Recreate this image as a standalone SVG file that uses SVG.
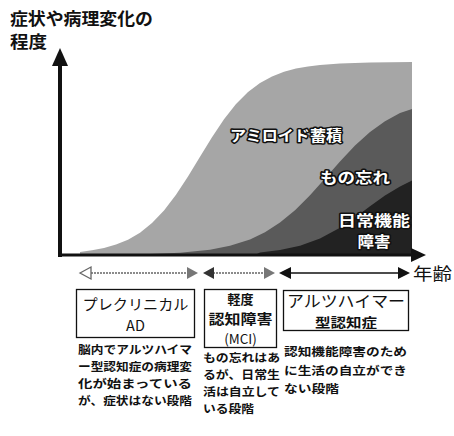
<svg xmlns="http://www.w3.org/2000/svg" width="454" height="436" viewBox="0 0 454 436">
<style>
text{font-family:"Noto Sans CJK JP","Noto Sans",sans-serif;fill:#111}
.title{font-size:17px;font-weight:700}
.lbl{font-size:15px;font-weight:700;fill:#fff;stroke:#111;stroke-width:3;paint-order:stroke;stroke-linejoin:round}
.box{fill:#fff;stroke:#111;stroke-width:1.3}
.bt{font-size:14.5px;text-anchor:middle}
.desc{font-size:11.5px;font-weight:700}
.dot{stroke:#666;stroke-width:1.5;stroke-dasharray:2 1;fill:none}
</style>
<g id="title">
<text class="title" x="10" y="25" textLength="143" lengthAdjust="spacingAndGlyphs">症状や病理変化の</text>
<text class="title" x="10" y="48" textLength="37" lengthAdjust="spacingAndGlyphs">程度</text>
</g>
<g id="areas">
<path id="amyloid" fill="#a6a6a6" d="M80,255 L80,251.9 92,250.3 104,248 116,244.6 128,239.7 140,232.7 152,223.1 164,210.6 176,194.8 188,176.6 200,156.8 212,137.3 224,119.3 236,104.1 248,92.1 260,83 272,76.5 284,71.8 296,68.6 308,66.4 320,64.9 340,63.5 370,62.5 412,62 L412,255 Z"/>
<path id="memory" fill="#5a5a5a" d="M150,255 L150,254 180,252.7 210,249.7 230,245.8 250,239.5 265,232.3 280,222.6 295,210.2 310,195.2 325,178.4 340,161.4 355,145.6 370,132 385,121.2 400,113.1 412,109 L412,255 Z"/>
<path id="daily" fill="#222" d="M255,255 L260,252.4 280,250 300,245.8 320,238.6 340,227.7 355,217.4 370,206.3 385,195.5 400,186.4 412,180.6 L412,255 Z"/>
<text class="lbl" x="286" y="141" text-anchor="middle" textLength="112" lengthAdjust="spacingAndGlyphs">アミロイド蓄積</text>
<text class="lbl" x="355" y="183" text-anchor="middle" textLength="70" lengthAdjust="spacingAndGlyphs">もの忘れ</text>
<text class="lbl" x="374" y="226" text-anchor="middle" textLength="72" lengthAdjust="spacingAndGlyphs">日常機能</text>
<text class="lbl" x="374" y="247" text-anchor="middle" textLength="33" lengthAdjust="spacingAndGlyphs">障害</text>
</g>
<g id="axes">
<line x1="60" y1="257" x2="60" y2="62" stroke="#111" stroke-width="4"/>
<polygon points="60,48 52,66 68,66" fill="#111"/>
<line x1="58" y1="255" x2="413" y2="255" stroke="#111" stroke-width="3"/>
<polygon points="426,255 411,248 411,262" fill="#111"/>
</g>
<g id="connectors">
<line class="dot" x1="88" y1="273" x2="190" y2="273"/>
<polygon points="80,273 91,267 91,279" fill="#fff" stroke="#666" stroke-width="1.3"/>
<polygon points="198,273 187,267 187,279" fill="#777"/>
<line class="dot" x1="210" y1="273" x2="266" y2="273"/>
<polygon points="203,273 214,267 214,279" fill="#333"/>
<polygon points="275,273 264,267 264,279" fill="#777"/>
<line x1="286" y1="273" x2="402" y2="273" stroke="#111" stroke-width="1.5"/>
<polygon points="279,273 291,267 291,279" fill="#111"/>
<polygon points="410,273 398,267 398,279" fill="#111"/>
<text x="413" y="280" style="font-size:17px" textLength="39" lengthAdjust="spacingAndGlyphs">年齢</text>
</g>
<g id="preclinical">
<rect class="box" x="76.5" y="289.5" width="118" height="48"/>
<text class="bt" x="135.5" y="310" textLength="106" lengthAdjust="spacingAndGlyphs">プレクリニカル</text>
<text class="bt" x="135.5" y="331">AD</text>
<text class="desc" x="78" y="354" textLength="114" lengthAdjust="spacingAndGlyphs">脳内でアルツハイマ</text>
<text class="desc" x="78" y="371" textLength="114" lengthAdjust="spacingAndGlyphs">ー型認知症の病理変</text>
<text class="desc" x="78" y="388" textLength="114" lengthAdjust="spacingAndGlyphs">化が始まっている</text>
<text class="desc" x="78" y="405" textLength="114" lengthAdjust="spacingAndGlyphs">が、症状はない段階</text>
</g>
<g id="mci">
<rect class="box" x="204.5" y="289.5" width="72" height="58"/>
<text class="bt" x="240.5" y="304" style="font-size:13px;font-weight:700">軽度</text>
<text class="bt" x="240.5" y="324" style="font-size:13.5px;font-weight:700" textLength="64" lengthAdjust="spacingAndGlyphs">認知障害</text>
<text class="bt" x="240.5" y="344" style="font-size:13.5px">(MCI)</text>
<text class="desc" x="203" y="362" textLength="77" lengthAdjust="spacingAndGlyphs">もの忘れはあ</text>
<text class="desc" x="203" y="379" textLength="77" lengthAdjust="spacingAndGlyphs">るが、日常生</text>
<text class="desc" x="203" y="396" textLength="77" lengthAdjust="spacingAndGlyphs">活は自立して</text>
<text class="desc" x="203" y="413" textLength="51" lengthAdjust="spacingAndGlyphs">いる段階</text>
</g>
<g id="alzheimer">
<rect class="box" x="283.5" y="290.5" width="125" height="40"/>
<text class="bt" x="346" y="307" style="font-size:16px" textLength="118" lengthAdjust="spacingAndGlyphs">アルツハイマー</text>
<text class="bt" x="346" y="327" style="font-size:13px;font-weight:700" textLength="62" lengthAdjust="spacingAndGlyphs">型認知症</text>
<text class="desc" x="284" y="356" textLength="123" lengthAdjust="spacingAndGlyphs">認知機能障害のため</text>
<text class="desc" x="284" y="375" textLength="123" lengthAdjust="spacingAndGlyphs">に生活の自立ができ</text>
<text class="desc" x="284" y="393" textLength="55" lengthAdjust="spacingAndGlyphs">ない段階</text>
</g>
</svg>
